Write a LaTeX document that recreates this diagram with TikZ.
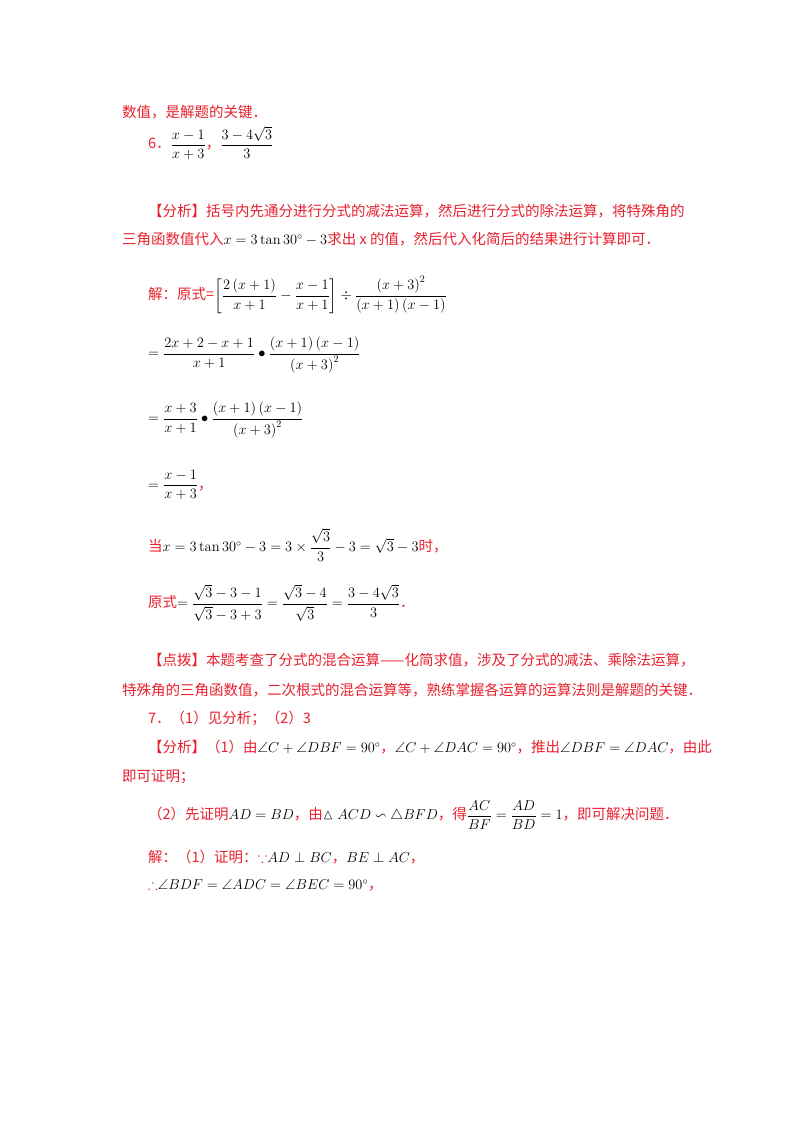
\documentclass[tikz,border=0pt]{standalone}
\usepackage{amsmath,amssymb}
\usepackage{fontspec}
\newfontfamily\cjk{Noto Sans CJK SC}
\definecolor{rd}{HTML}{E8212E}
\newcommand{\zh}[1]{{\cjk\color{rd}#1}}
\begin{document}
\begin{tikzpicture}[x=1pt,y=-1pt,
  t/.style={anchor=west,inner sep=0pt,font=\fontsize{14.5}{17}\selectfont}]
\fill[white] (0,0) rectangle (800,1132);
\node[t] (l1) at (122,112) {\zh{数值，是解题的关键．}};
\node[t] (l2) at (148,143) {\zh{6．}$\dfrac{x-1}{x+3}$\zh{，}$\dfrac{3-4\sqrt3}{3}$};
\node[t] (l3) at (148,211) {\zh{【分析】括号内先通分进行分式的减法运算，然后进行分式的除法运算，将特殊角的}};
\node[t] (l4) at (122,239) {\zh{三角函数值代入}$x=3\tan30^\circ-3$\zh{求出 x 的值，然后代入化简后的结果进行计算即可．}};
\node[t] (l5) at (148,295) {\zh{解：原式=}$\left[\dfrac{2\left(x+1\right)}{x+1}-\dfrac{x-1}{x+1}\right]\div\dfrac{\left(x+3\right)^2}{\left(x+1\right)\left(x-1\right)}$};
\node[t] (l6) at (148,355) {$=\dfrac{2x+2-x+1}{x+1}\bullet\dfrac{\left(x+1\right)\left(x-1\right)}{\left(x+3\right)^2}$};
\node[t] (l7) at (148,420) {$=\dfrac{x+3}{x+1}\bullet\dfrac{\left(x+1\right)\left(x-1\right)}{\left(x+3\right)^2}$};
\node[t] (l8) at (148,485) {$=\dfrac{x-1}{x+3}$\zh{，}};
\node[t] (l9) at (148,545) {\zh{当}$x=3\tan30^\circ-3=3\times\dfrac{\sqrt3}{3}-3=\sqrt3-3$\zh{时，}};
\node[t] (l10) at (148,603) {\zh{原式}$=\dfrac{\sqrt3-3-1}{\sqrt3-3+3}=\dfrac{\sqrt3-4}{\sqrt3}=\dfrac{3-4\sqrt3}{3}$\zh{．}};
\node[t] (l11) at (148,660) {\zh{【点拨】本题考查了分式的混合运算——化简求值，涉及了分式的减法、乘除法运算，}};
\node[t] (l12) at (122,690) {\zh{特殊角的三角函数值，二次根式的混合运算等，熟练掌握各运算的运算法则是解题的关键．}};
\node[t] (l13) at (148,718) {\zh{7．（1）见分析；（2）3}};
\node[t] (l14) at (148,747) {\zh{【分析】（1）由}$\angle C+\angle DBF=90^\circ$\zh{，}$\angle C+\angle DAC=90^\circ$\zh{，推出}$\angle DBF=\angle DAC$\zh{，由此}};
\node[t] (l15) at (122,777) {\zh{即可证明；}};
\node[t] (l16) at (148,815) {\zh{（2）先证明}$AD=BD$\zh{，由}$\vartriangle ACD\backsim\triangle BFD$\zh{，得}$\dfrac{AC}{BF}=\dfrac{AD}{BD}=1$\zh{，即可解决问题．}};
\node[t] (l17) at (148,857) {\zh{解：（1）证明：}{\color{rd}$\because$}$AD\perp BC$\zh{，}$BE\perp AC$\zh{，}};
\node[t] (l18) at (148,885) {{\color{rd}$\therefore$}$\angle BDF=\angle ADC=\angle BEC=90^\circ$\zh{，}};
\end{tikzpicture}
\end{document}
